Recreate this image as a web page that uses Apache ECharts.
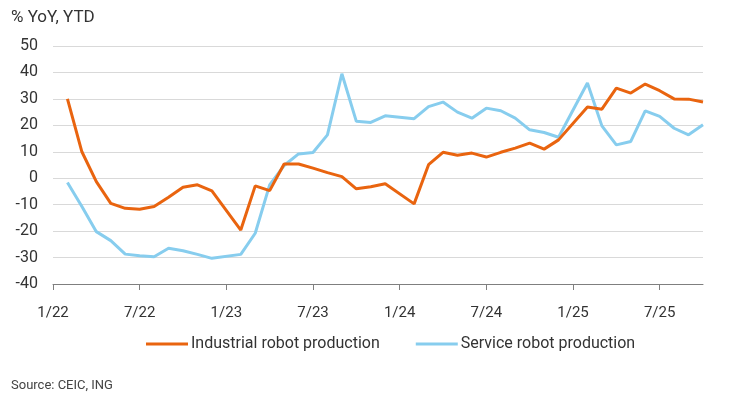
<!DOCTYPE html>
<html>
<head>
<meta charset="utf-8">
<script src="https://cdn.jsdelivr.net/npm/echarts@6/dist/echarts.min.js"></script>
<style>
  html, body { margin: 0; padding: 0; background: #fff; }
  #chart { width: 744px; height: 399px; }
</style>
</head>
<body>
<div id="chart"></div>
<script>
// months 1/22 .. 10/25, Jan values are not published (Jan-Feb combined)
var months = [];
for (var y = 22; y <= 25; y++) {
  for (var m = 1; m <= 12; m++) {
    if (y === 25 && m > 10) break;
    months.push(m + '/' + y);
  }
}

var industrial = [
  null, 30, 10, -1.3, -9.5, -11.4, -11.7, -10.7, -7.2, -3.4, -2.5, -4.8,
  null, -19.6, -2.9, -4.7, 5.4, 5.4, 3.8, 2.1, 0.6, -4.0, -3.2, -2.1,
  null, -9.7, 5.1, 9.8, 8.7, 9.5, 8.0, 9.8, 11.4, 13.3, 11.0, 14.5,
  null, 26.9, 26.1, 34.1, 32.2, 35.6, 33.1, 30.0, 29.9, 28.8
];

var service = [
  null, -1.6, -10.7, -20.2, -23.6, -28.7, -29.3, -29.7, -26.5, -27.4, -28.8, -30.3,
  null, -28.8, -20.8, -2.5, 4.8, 9.2, 9.7, 16.4, 39.5, 21.5, 21.1, 23.6,
  null, 22.5, 27.1, 28.8, 25.0, 22.7, 26.5, 25.5, 22.7, 18.3, 17.3, 15.5,
  null, 36.0, 19.8, 12.6, 13.9, 25.5, 23.4, 18.9, 16.4, 20.2
];

var font = 'Roboto, sans-serif';
var orange = '#e9640f';
var blue = '#87cdee';

var chart = echarts.init(document.getElementById('chart'));
chart.setOption({
  animation: false,
  title: [
    {
      text: '% YoY, YTD',
      left: 6, top: 4,
      textStyle: { fontFamily: font, fontSize: 17, fontWeight: 'normal', color: '#333' }
    },
    {
      text: 'Source: CEIC, ING',
      left: 6, top: 374,
      textStyle: { fontFamily: font, fontSize: 13, fontWeight: 'normal', color: '#444' }
    }
  ],
  legend: {
    top: 331,
    left: 141,
    itemWidth: 42,
    itemHeight: 3,
    itemGap: 36,
    textStyle: { fontFamily: font, fontSize: 16, color: '#333', padding: [0, 0, 0, -2] },
    data: [
      { name: 'Industrial robot production', icon: 'rect' },
      { name: 'Service robot production', icon: 'rect' }
    ]
  },
  grid: { left: 53, right: 41, top: 46, bottom: 115 },
  xAxis: [
    {
      type: 'category',
      data: months,
      boundaryGap: false,
      axisLine: { show: false },
      axisTick: { show: false },
      axisLabel: {
        interval: 5,
        margin: 22,
        fontFamily: font,
        fontSize: 15,
        color: '#333'
      }
    },
    {
      type: 'category',
      data: months,
      boundaryGap: false,
      position: 'bottom',
      axisLine: { onZero: true, lineStyle: { color: '#7f7f7f', width: 1 } },
      axisTick: { show: true, interval: 5, length: 6, lineStyle: { color: '#7f7f7f' } },
      axisLabel: { show: false }
    }
  ],
  yAxis: {
    type: 'value',
    min: -40,
    max: 50,
    interval: 10,
    axisLine: { show: false },
    axisTick: { show: false },
    axisLabel: { margin: 15, fontFamily: font, fontSize: 16, color: '#333' },
    splitLine: { lineStyle: { color: '#d9d9d9', width: 1 } }
  },
  series: [
    {
      name: 'Industrial robot production',
      type: 'line',
      data: industrial,
      connectNulls: true,
      showSymbol: false,
      color: orange,
      lineStyle: { width: 3, color: orange },
      z: 3
    },
    {
      name: 'Service robot production',
      type: 'line',
      data: service,
      connectNulls: true,
      showSymbol: false,
      color: blue,
      lineStyle: { width: 3, color: blue },
      z: 2
    }
  ]
});
</script>
</body>
</html>
